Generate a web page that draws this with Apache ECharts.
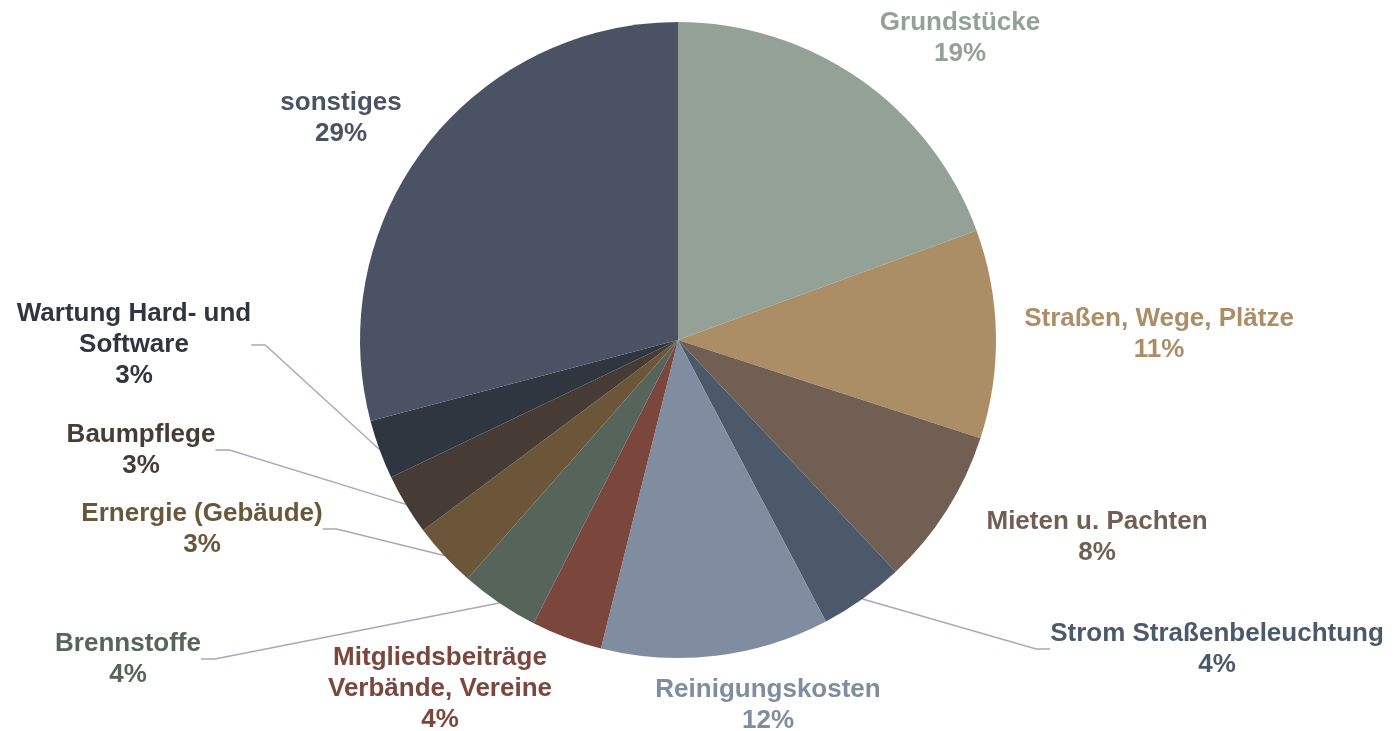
<!DOCTYPE html>
<html>
<head>
<meta charset="utf-8">
<script src="https://cdn.jsdelivr.net/npm/echarts@6/dist/echarts.min.js"></script>
<style>
  html, body { margin: 0; padding: 0; background: #fff; }
  #chart { width: 1394px; height: 731px; }
</style>
</head>
<body>
<div id="chart"></div>
<script>
// Kostenanteile (clockwise from top)
const names = [
  "Grundstücke",
  "Straßen, Wege, Plätze",
  "Mieten u. Pachten",
  "Strom Straßenbeleuchtung",
  "Reinigungskosten",
  "Mitgliedsbeiträge\nVerbände, Vereine",
  "Brennstoffe",
  "Ernergie (Gebäude)",
  "Baumpflege",
  "Wartung Hard- und\nSoftware",
  "sonstiges"
];
const values = [19.4, 10.6, 8.0, 4.3, 11.6, 3.6, 4.0, 3.3, 3.1, 3.0, 29.1];
const colors = [
  "#93a197", "#ab8e66", "#715f54", "#4b596a", "#808ca0", "#7b473d",
  "#56645a", "#6b5639", "#473c35", "#2f3640", "#4a5263"
];
// which labels get a leader line
const withLine = [false, false, false, true, false, false, true, true, true, true, false];

// label anchor (centre of text block), px
const labelPos = [
  [960, 38], [1159, 334], [1097, 537], [1217, 649], [768, 705], [440, 689],
  [128, 659], [202, 529], [141, 450], [134, 345], [341, 118]
];

let chart = echarts.init(document.getElementById("chart"));

let data = names.map((n, i) => ({
  name: n,
  value: values[i],
  itemStyle: { color: colors[i] },
  label: { color: colors[i] },
  labelLine: { show: withLine[i] }
}));

chart.setOption({
  animation: false,
  series: [{
    type: "pie",
    center: [678, 340],
    radius: 318,
    startAngle: 90,
    clockwise: true,
    avoidLabelOverlap: false,
    data: data,
    label: {
      show: true,
      position: "outside",
      formatter: (p) => p.name + "\n" + Math.round(p.percent) + "%",
      fontFamily: "Liberation Sans, Arial, sans-serif",
      fontWeight: "bold",
      fontSize: 26,
      lineHeight: 31,
      align: "center"
    },
    labelLine: {
      length: 10,
      length2: 14,
      smooth: false,
      lineStyle: { color: "#aba6be", width: 1.4 }
    },
    labelLayout: (params) => {
      let pos = labelPos[params.dataIndex];
      return { x: pos[0], y: pos[1], align: "center", verticalAlign: "middle" };
    },
    emphasis: { disabled: true }
  }]
});
</script>
</body>
</html>
